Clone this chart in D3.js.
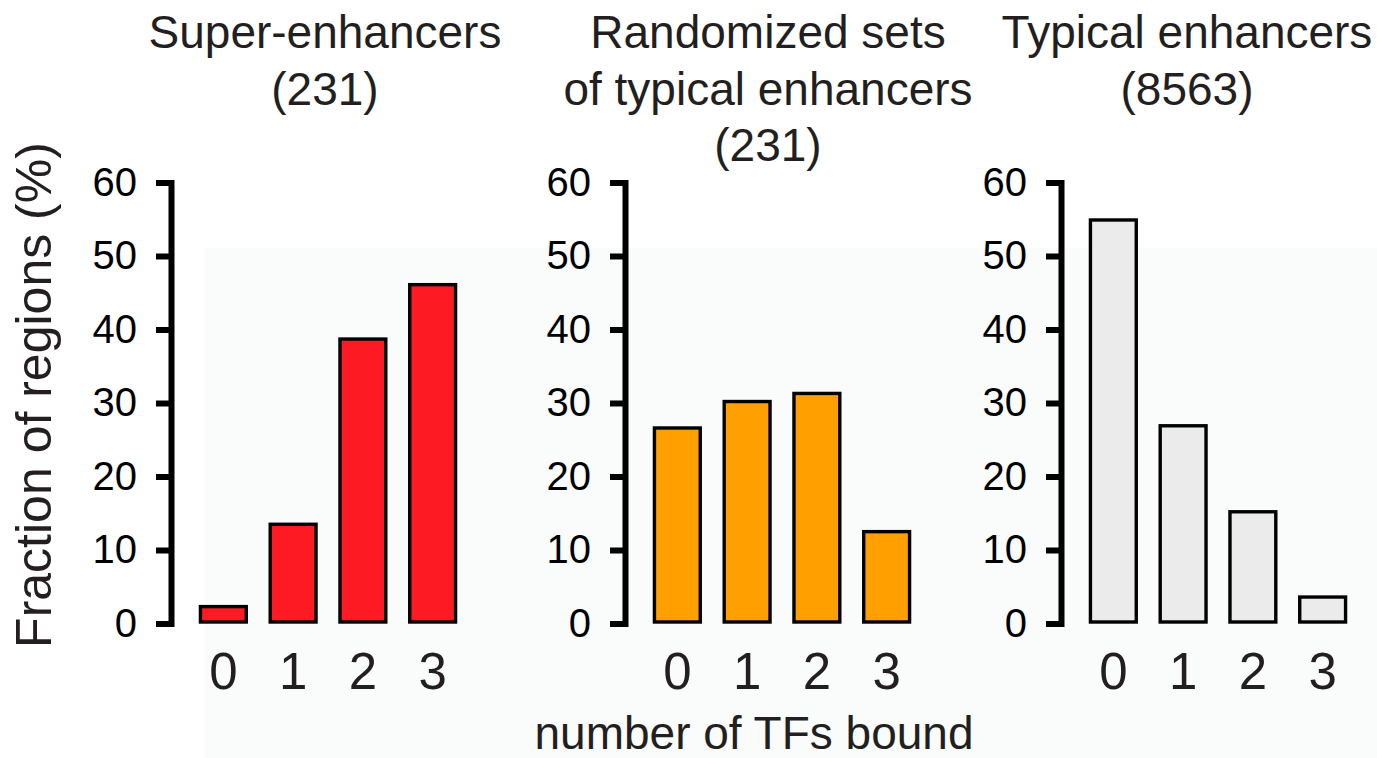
<!DOCTYPE html>
<html>
<head>
<meta charset="utf-8">
<script src="https://cdn.jsdelivr.net/npm/d3@7"></script>
<style>
  html, body { margin: 0; padding: 0; background: #ffffff; }
  svg { display: block; }
  text { font-family: "Liberation Sans", Arial, Helvetica, sans-serif; }
</style>
</head>
<body>
<svg id="chart" width="1377" height="758"></svg>
<script>
// Number of TFs bound per region (x categories)
const categories = ["0", "1", "2", "3"];
const yTicks = [0, 10, 20, 30, 40, 50, 60];

// Fraction of regions (%) for each group
const superEnhancers = [2.3, 13.5, 38.7, 46.1];
const randomizedTypical = [26.6, 30.2, 31.3, 12.5];
const typicalEnhancers = [54.9, 26.9, 15.2, 3.6];

// Panel titles (one entry per line)
const titleSuper = ["Super-enhancers", "(231)"];
const titleRandom = ["Randomized sets", "of typical enhancers", "(231)"];
const titleTypical = ["Typical enhancers", "(8563)"];

const yLabel = "Fraction of regions (%)";
const xLabel = "number of TFs bound";

const panels = [
  { values: superEnhancers, title: titleSuper, fill: "#fe1a22", axisX: 171, titleX: 325 },
  { values: randomizedTypical, title: titleRandom, fill: "#ff9f00", axisX: 625, titleX: 768 },
  { values: typicalEnhancers, title: titleTypical, fill: "#ebebeb", axisX: 1061, titleX: 1187 }
];

const svg = d3.select("#chart");
const textColor = "#231f20";

// faint backdrop behind the plotting area
svg.append("rect")
  .attr("x", 205).attr("y", 248)
  .attr("width", 1377 - 205).attr("height", 758 - 248)
  .attr("fill", "#fafbfb");

const y = d3.scaleLinear().domain([0, 60]).range([623.5, 182.5]);

panels.forEach(p => {
  const g = svg.append("g");

  // bars
  const x = d3.scaleBand()
    .domain(categories)
    .range([p.axisX + 7, p.axisX + 7 + 300])
    .padding(0.3);

  g.selectAll("rect.bar")
    .data(p.values)
    .join("rect")
    .attr("class", "bar")
    .attr("x", (d, i) => x(categories[i]) + 1.5)
    .attr("width", x.bandwidth() - 3)
    .attr("y", d => y(d))
    .attr("height", d => y(0) - y(d) - 1.5)
    .attr("fill", p.fill)
    .attr("stroke", "#000")
    .attr("stroke-width", 3.4);

  // y axis
  const ax = g.append("g")
    .attr("transform", `translate(${p.axisX},0)`)
    .call(d3.axisLeft(y).tickValues(yTicks).tickSize(15).tickSizeOuter(0).tickPadding(19));
  ax.select(".domain")
    .attr("stroke", "#000").attr("stroke-width", 6).attr("stroke-linecap", "square");
  ax.selectAll(".tick line").attr("stroke", "#000").attr("stroke-width", 6);
  ax.selectAll(".tick text")
    .attr("fill", "#000")
    .style("font-size", "40px")
    .style("font-family", '"Liberation Sans", Arial, sans-serif');

  // x category labels
  g.selectAll("text.xcat")
    .data(categories)
    .join("text")
    .attr("class", "xcat")
    .attr("x", d => x(d) + x.bandwidth() / 2)
    .attr("y", 689)
    .attr("text-anchor", "middle")
    .attr("fill", textColor)
    .style("font-size", "51px")
    .text(d => d);

  // title
  const t = g.append("text")
    .attr("text-anchor", "middle")
    .attr("fill", textColor)
    .style("font-size", "46px");
  p.title.forEach((line, i) => {
    t.append("tspan")
      .attr("x", p.titleX)
      .attr("y", 48 + i * 56.5)
      .text(line);
  });
});

// shared y label
svg.append("text")
  .attr("transform", "translate(51,395) rotate(-90)")
  .attr("text-anchor", "middle")
  .attr("fill", textColor)
  .style("font-size", "50px")
  .text(yLabel);

// shared x label
svg.append("text")
  .attr("x", 754)
  .attr("y", 749)
  .attr("text-anchor", "middle")
  .attr("fill", textColor)
  .style("font-size", "46px")
  .text(xLabel);
</script>
</body>
</html>
